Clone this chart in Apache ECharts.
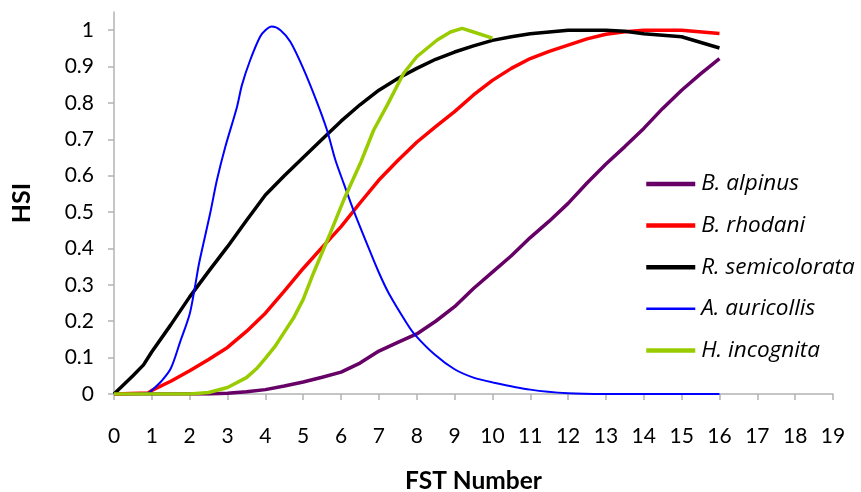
<!DOCTYPE html>
<html>
<head>
<meta charset="utf-8">
<script src="https://cdn.jsdelivr.net/npm/echarts@6/dist/echarts.min.js"></script>
<style>html,body{margin:0;padding:0;background:#fff}#c{width:861px;height:492px}</style>
</head>
<body>
<div id="c"></div>
<script>
const seriesNames = ['B. alpinus', 'B. rhodani', 'R. semicolorata', 'A. auricollis', 'H. incognita'];
const yTickValues = [0, 0.1, 0.2, 0.3, 0.4, 0.5, 0.6, 0.7, 0.8, 0.9, 1];

const alpinusX = [0, 2.5, 3, 3.5, 4, 4.5, 5, 5.5, 6, 6.5, 7, 7.5, 8, 8.5, 9, 9.5, 10, 10.5, 11, 11.5, 12, 12.5, 13, 13.5, 14, 14.5, 15, 15.5, 16];
const alpinusY = [0, 0, 0.002, 0.006, 0.012, 0.022, 0.033, 0.046, 0.06, 0.085, 0.118, 0.142, 0.165, 0.2, 0.24, 0.29, 0.335, 0.38, 0.43, 0.475, 0.524, 0.58, 0.632, 0.68, 0.73, 0.785, 0.835, 0.88, 0.922];

const rhodaniX = [0, 0.9, 1, 1.5, 2, 2.5, 3, 3.5, 4, 4.5, 5, 5.5, 6, 6.5, 7, 7.5, 8, 8.5, 9, 9.5, 10, 10.5, 11, 11.5, 12, 12.5, 13, 13.5, 14, 15, 16];
const rhodaniY = [0, 0.003, 0.01, 0.035, 0.064, 0.095, 0.128, 0.172, 0.222, 0.283, 0.345, 0.403, 0.46, 0.525, 0.588, 0.642, 0.692, 0.735, 0.776, 0.822, 0.862, 0.895, 0.922, 0.942, 0.959, 0.976, 0.989, 0.996, 1.0, 1.0, 0.991];

const semicolorataX = [0, 0.5, 0.78, 1, 1.5, 2, 2.5, 3, 3.5, 4, 4.5, 5, 5.5, 6, 6.5, 7, 7.5, 8, 8.5, 9, 9.5, 10, 10.5, 11, 11.5, 12, 13, 13.5, 14, 15, 16];
const semicolorataY = [0, 0.05, 0.08, 0.116, 0.19, 0.267, 0.337, 0.405, 0.477, 0.547, 0.6, 0.65, 0.7, 0.75, 0.795, 0.835, 0.867, 0.895, 0.92, 0.94, 0.957, 0.972, 0.982, 0.99, 0.995, 1.0, 1.0, 0.997, 0.99, 0.982, 0.951];

const auricollisX = [0, 0.9, 1, 1.25, 1.5, 1.75, 2, 2.14, 2.25, 2.54, 2.72, 2.94, 3.25, 3.38, 3.6, 3.86, 4, 4.17, 4.4, 4.66, 5, 5.36, 5.63, 5.85, 6.07, 6.33, 6.68, 6.99, 7.26, 7.74, 7.96, 8.49, 9, 9.5, 10, 11, 12, 13, 14, 15, 16];
const auricollisY = [0, 0.002, 0.01, 0.035, 0.07, 0.144, 0.22, 0.295, 0.36, 0.496, 0.588, 0.679, 0.789, 0.849, 0.918, 0.982, 1.0, 1.01, 1.0, 0.968, 0.895, 0.803, 0.725, 0.643, 0.579, 0.505, 0.414, 0.336, 0.277, 0.194, 0.162, 0.107, 0.068, 0.045, 0.032, 0.012, 0.002, 0, 0, 0, 0];

const incognitaX = [0, 2, 2.5, 3, 3.5, 3.77, 4, 4.25, 4.5, 4.74, 5, 5.27, 5.71, 6.07, 6.51, 6.86, 7.22, 7.65, 8, 8.54, 8.89, 9.2, 9.5, 10];
const incognitaY = [0, 0, 0.004, 0.018, 0.045, 0.07, 0.098, 0.13, 0.17, 0.208, 0.26, 0.332, 0.441, 0.533, 0.634, 0.725, 0.794, 0.881, 0.927, 0.973, 0.995, 1.005, 0.995, 0.978];

const pair = (xs, ys) => xs.map((x, i) => [x, ys[i]]);
const colors = ['#660066', '#ff0000', '#000000', '#0000ff', '#99cc00'];
const widths = [3.5, 3.5, 3.5, 2, 3.5];
const legendWidths = [4.5, 4.5, 4.5, 2.5, 4.5];
const datasets = [
  pair(alpinusX, alpinusY),
  pair(rhodaniX, rhodaniY),
  pair(semicolorataX, semicolorataY),
  pair(auricollisX, auricollisY),
  pair(incognitaX, incognitaY)
];

const chart = echarts.init(document.getElementById('c'), null, { renderer: 'canvas' });
const font = 'Lato, "Open Sans", sans-serif';
chart.setOption({
  animation: false,
  backgroundColor: '#ffffff',
  grid: { left: 114, right: 28, top: 12, bottom: 98, containLabel: false, outerBoundsMode: 'none' },
  legend: {
    orient: 'vertical',
    left: 639,
    top: 167,
    padding: 5,
    itemWidth: 49,
    itemHeight: 14,
    itemGap: 17.6,
    itemStyle: { color: 'rgba(0,0,0,0)', borderColor: 'rgba(0,0,0,0)', borderWidth: 0, opacity: 0 },
    data: seriesNames.map((n, i) => ({ name: n, lineStyle: { color: colors[i], width: legendWidths[i] } })),
    textStyle: { fontFamily: '"Open Sans", Lato, sans-serif', fontStyle: 'italic', fontSize: 22.5, color: '#000', lineHeight: 24, padding: [0, 0, 0, 1] }
  },
  xAxis: {
    type: 'value',
    min: 0, max: 19, interval: 1,
    name: 'FST Number',
    nameLocation: 'middle',
    nameGap: 75,
    nameTextStyle: { fontFamily: font, fontWeight: 'bold', fontSize: 24.5, color: '#000' },
    axisLine: { show: true, onZero: false, lineStyle: { color: '#b3b3b3', width: 1.5 } },
    axisTick: { show: true, length: 6, lineStyle: { color: '#b3b3b3', width: 1.5 } },
    axisLabel: { fontFamily: font, fontSize: 21, color: '#000', margin: 32 },
    splitLine: { show: false }
  },
  yAxis: {
    type: 'value',
    min: 0, max: 1.05, interval: 0.1,
    name: 'HSI',
    nameLocation: 'middle',
    nameGap: 80,
    nameRotate: 90,
    nameTextStyle: { fontFamily: font, fontWeight: 'bold', fontSize: 25, color: '#000' },
    axisLine: { show: true, lineStyle: { color: '#b3b3b3', width: 1.5 } },
    axisTick: { show: true, length: 6, lineStyle: { color: '#b3b3b3', width: 1.5 }, customValues: yTickValues },
    axisLabel: { fontFamily: font, fontSize: 21, color: '#000', margin: 20, customValues: yTickValues,
      formatter: v => (v === 0 ? '0' : v === 1 ? '1' : v.toFixed(1)) },
    splitLine: { show: false }
  },
  series: seriesNames.map((n, i) => ({
    name: n,
    type: 'line',
    data: datasets[i],
    showSymbol: false,
    symbol: 'none',
    smooth: i === 3 ? 0.3 : false,
    color: colors[i],
    lineStyle: { color: colors[i], width: widths[i] },
    z: [2, 3, 4, 5, 6][i]
  }))
});
</script>
</body>
</html>
